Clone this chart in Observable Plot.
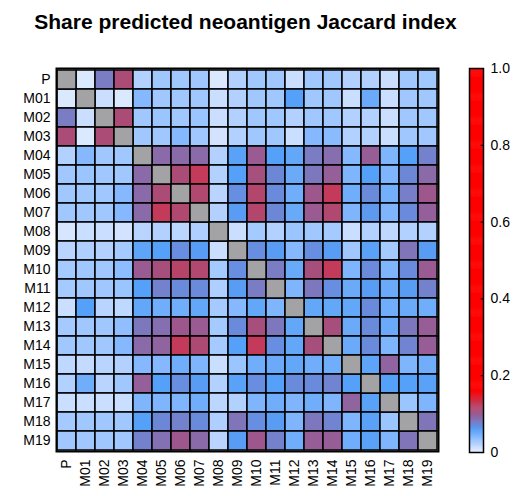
<!DOCTYPE html>
<html><head><meta charset="utf-8">
<script src="https://cdn.jsdelivr.net/npm/d3@7"></script>
<script src="https://cdn.jsdelivr.net/npm/@observablehq/plot@0.6"></script>
<style>
body{margin:0;background:#fff;}
#wrap{position:relative;width:522px;height:496px;font-family:"Liberation Sans",Arial,sans-serif;color:#000;}
#title{position:absolute;left:0;top:10px;width:491px;text-align:center;font-weight:bold;font-size:21px;line-height:24px;}
#heat{position:absolute;left:0;top:0}
#bar{position:absolute;left:455px;top:0}
</style></head><body>
<div id="wrap"><div id="title">Share predicted neoantigen Jaccard index</div><div id="heat"></div><div id="bar"></div></div>
<script>
const labels = ["P","M01","M02","M03","M04","M05","M06","M07","M08","M09","M10","M11","M12","M13","M14","M15","M16","M17","M18","M19"];
const jaccard = [
 [null,.004,.078,.108,.02,.028,.028,.028,.004,.02,.028,.028,.012,.028,.028,.02,.02,.012,.028,.028],
 [.004,null,.012,.004,.038,.028,.028,.028,.012,.02,.028,.028,.056,.028,.028,.012,.047,.012,.028,.028],
 [.078,.012,null,.108,.028,.03,.028,.03,.012,.02,.028,.028,.02,.028,.028,.02,.02,.012,.028,.028],
 [.108,.004,.108,null,.028,.028,.038,.028,.008,.02,.028,.028,.012,.038,.036,.02,.02,.012,.028,.028],
 [.02,.038,.028,.028,null,.088,.088,.088,.02,.054,.098,.056,.05,.078,.086,.038,.096,.04,.056,.074],
 [.028,.03,.028,.028,.088,null,.108,.125,.02,.056,.105,.07,.047,.08,.095,.04,.056,.04,.07,.088],
 [.028,.028,.028,.038,.088,.108,null,.112,.018,.066,.114,.068,.045,.1,.125,.045,.068,.044,.076,.1],
 [.028,.028,.028,.038,.088,.125,.112,null,.02,.058,.114,.07,.048,.098,.112,.04,.06,.04,.068,.094],
 [.006,.012,.012,.008,.018,.02,.017,.022,null,.012,.026,.02,.03,.028,.026,.012,.02,.016,.02,.02],
 [.018,.022,.02,.026,.052,.056,.066,.058,.012,null,.066,.058,.038,.066,.058,.028,.054,.026,.082,.058],
 [.026,.028,.028,.035,.098,.106,.116,.112,.026,.066,null,.078,.048,.106,.125,.04,.068,.04,.068,.098],
 [.026,.028,.028,.03,.056,.074,.068,.068,.022,.058,.078,null,.04,.08,.066,.047,.058,.047,.058,.074],
 [.012,.056,.018,.016,.05,.045,.045,.05,.026,.038,.05,.04,null,.05,.05,.05,.068,.045,.047,.045],
 [.026,.028,.028,.034,.08,.085,.1,.098,.026,.068,.106,.08,.05,null,.106,.047,.068,.047,.08,.096],
 [.028,.028,.028,.038,.088,.092,.125,.11,.026,.056,.125,.066,.05,.106,null,.047,.068,.04,.072,.096],
 [.016,.014,.018,.02,.038,.038,.045,.04,.012,.03,.045,.047,.05,.045,.045,null,.052,.092,.04,.045],
 [.02,.045,.018,.028,.095,.056,.066,.058,.02,.054,.066,.056,.068,.068,.072,.056,null,.056,.056,.054],
 [.012,.012,.012,.012,.04,.04,.04,.045,.017,.02,.04,.045,.04,.045,.04,.092,.054,null,.03,.04],
 [.026,.028,.028,.028,.056,.07,.074,.068,.022,.082,.066,.058,.04,.08,.072,.04,.054,.03,null,.082],
 [.028,.028,.028,.028,.074,.084,.1,.088,.018,.058,.1,.074,.045,.096,.096,.045,.054,.04,.082,null]
];
const legendTicks = [0, 0.2, 0.4, 0.6, 0.8, 1.0];
const colorStops = [0, .012, .02, .028, .038, .047, .056, .068, .078, .088, .098, .108, .125, .16, 1];
const colorRange = ["#e4eeff","#cadeff","#b2d1ff","#a0c8ff","#85b8ff","#6aaaf8","#55a0f8","#6a8adc","#7a7cc4","#8a6aa8","#9a5a92","#aa4c76","#c43a5a","#ff0000","#ff0000"];
const diagColor = "#a3a3a6";
const fontFamily = '"Liberation Sans", Arial, sans-serif';
const colorOpts = {type: "linear", domain: colorStops, range: colorRange, interpolate: "rgb", clamp: true};

const cells = [];
labels.forEach((r, i) => labels.forEach((c, j) => cells.push({row: r, col: c, value: jaccard[i][j]})));

const heat = Plot.plot({
  width: 445, height: 496,
  marginLeft: 56, marginRight: 7, marginTop: 68, marginBottom: 45,
  style: {fontFamily, fontSize: "14px", color: "#000", background: "transparent"},
  x: {domain: labels, padding: 0, label: null},
  y: {domain: labels, padding: 0, label: null},
  color: colorOpts,
  marks: [
    Plot.cell(cells.filter(d => d.value != null), {x: "col", y: "row", fill: "value", stroke: "#000", strokeWidth: 1.5, inset: 0}),
    Plot.cell(cells.filter(d => d.value == null), {x: "col", y: "row", fill: diagColor, stroke: "#000", strokeWidth: 1.5, inset: 0}),
    Plot.frame({stroke: "#000", strokeWidth: 2}),
    Plot.axisX({tickRotate: -90, tickSize: 0, tickPadding: 8, fontSize: 14, label: null}),
    Plot.axisY({tickSize: 0, tickPadding: 6, fontSize: 14, label: null})
  ]
});
document.getElementById("heat").append(heat);

const step = 0.0025;
const samples = d3.range(0, 1, step);
const bar = Plot.plot({
  width: 67, height: 496,
  marginLeft: 14, marginRight: 39, marginTop: 68, marginBottom: 44,
  style: {fontFamily, fontSize: "14px", color: "#000", background: "transparent"},
  x: {domain: [0, 1], axis: null},
  y: {domain: [0, 1], axis: null},
  color: colorOpts,
  marks: [
    Plot.rect(samples, {x1: 0, x2: 1, y1: d => d, y2: d => Math.min(1, d + step * 1.6), fill: d => d, inset: 0}),
    Plot.ruleY(legendTicks.slice(1, -1), {x1: 0.82, x2: 1, stroke: "#000"}),
    Plot.frame({stroke: "#000", strokeWidth: 1.5}),
    Plot.axisY(legendTicks, {anchor: "right", tickSize: 0, tickPadding: 7, fontSize: 14, label: null, tickFormat: d => d === 0 ? "0" : d.toFixed(1)})
  ]
});
document.getElementById("bar").append(bar);
</script>
</body></html>
